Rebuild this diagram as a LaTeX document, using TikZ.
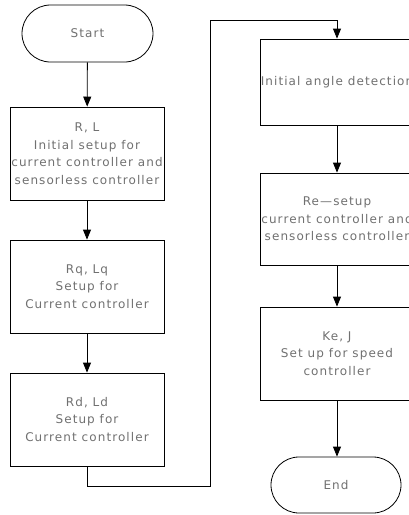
\documentclass[tikz,border=0pt]{standalone}
\usepackage{fontspec}
\setmainfont{DejaVu Sans}[LetterSpace=9]
\usetikzlibrary{arrows.meta,shapes.misc}
\definecolor{txtgray}{HTML}{707070}
\begin{document}
\begin{tikzpicture}[x=1pt,y=-1pt,
  every node/.style={font=\fontsize{12}{17.5}\selectfont, text=txtgray, align=center},
  procbox/.style={draw=black, line width=0.8pt, rectangle, minimum width=154pt, inner sep=0pt},
  termbox/.style={draw=black, line width=0.8pt, rounded rectangle, inner sep=0pt},
  flow/.style={draw=black, line width=0.8pt, -{Triangle[length=10pt,width=8pt]}}
]
\useasboundingbox (0,0) rectangle (409,515);
\clip (0,0) rectangle (409,515);
\node[termbox, minimum width=131pt, minimum height=57pt] (start) at (87.5,33.5) {Start};
\node[procbox, minimum height=93pt] (b1) at (87,153.5) {R, L\\Initial setup for\\current controller and\\sensorless controller};
\node[procbox, minimum height=93pt] (b2) at (87,286.5) {Rq, Lq\\Setup for\\Current controller};
\node[procbox, minimum height=93pt] (b3) at (87,419.5) {Rd, Ld\\Setup for\\Current controller};
\node[procbox, minimum height=86pt] (b4) at (337,82) {Initial angle detection};
\node[procbox, minimum height=92pt] (b5) at (337,219) {Re\textemdash setup\\current controller and\\sensorless controller};
\node[procbox, minimum height=93pt] (b6) at (337,353.5) {Ke, J\\Set up for speed\\controller};
\node[termbox, minimum width=130pt, minimum height=56pt] (end) at (336,485) {End};
\coordinate (c1) at (210,486);
\coordinate (c2) at (210,20);
\draw[flow] (start) -- (b1);
\draw[flow] (b1) -- (b2);
\draw[flow] (b2) -- (b3);
\draw[flow] (b3.south) |- (c1) -- (c2) -| (b4.north);
\draw[flow] (b4) -- (b5);
\draw[flow] (b5) -- (b6);
\draw[flow] (b6.south) -- (b6.south |- end.north);
\end{tikzpicture}
\end{document}
